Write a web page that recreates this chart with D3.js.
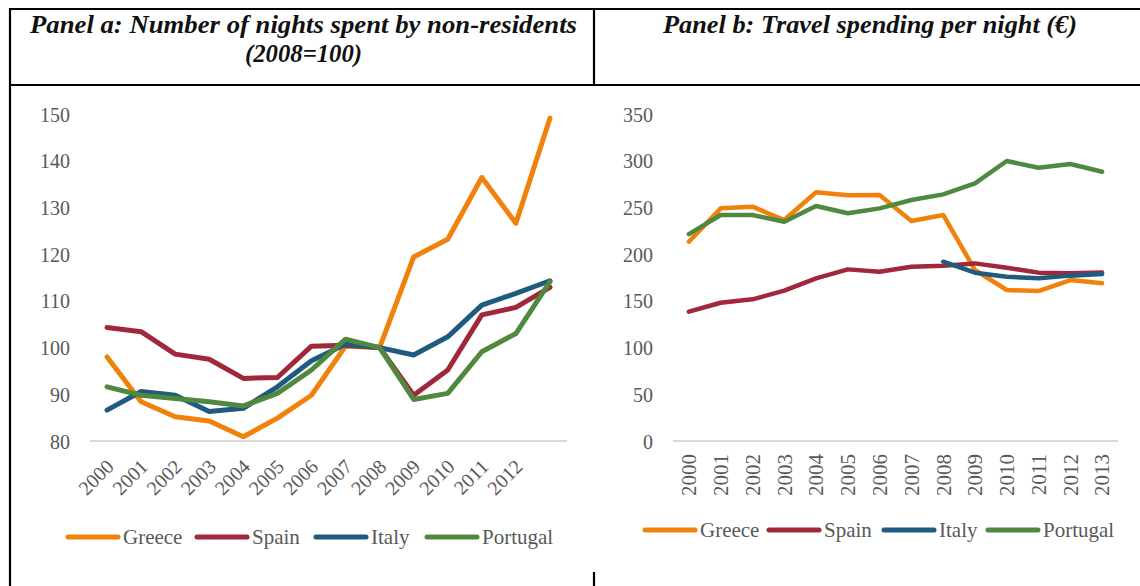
<!DOCTYPE html>
<html>
<head>
<meta charset="utf-8">
<script src="https://cdn.jsdelivr.net/npm/d3@7"></script>
<style>
html,body{margin:0;padding:0;background:#fff;}
svg{display:block;}
</style>
</head>
<body>
<svg id="chart" width="1140" height="586"></svg>
<script>
// ---- data ----
const years = ["2000","2001","2002","2003","2004","2005","2006","2007","2008","2009","2010","2011","2012","2013"];
const seriesNames = ["Greece","Spain","Italy","Portugal"];
const seriesColors = ["#F0820C","#A0283A","#1F5A80","#4F893F"];

// Panel a: nights spent by non-residents (2008=100)
const nightsGreece   = [98.0, 88.4, 85.2, 84.3, 80.9, 84.9, 89.8, 100.3, 100.0, 119.4, 123.2, 136.4, 126.6, 149.1];
const nightsSpain    = [104.3, 103.4, 98.6, 97.5, 93.4, 93.6, 100.3, 100.5, 100.0, 89.8, 95.2, 107.0, 108.6, 112.9];
const nightsItaly    = [86.6, 90.6, 89.8, 86.3, 87.0, 91.6, 97.2, 100.7, 100.0, 98.4, 102.3, 109.1, 111.6, 114.3];
const nightsPortugal = [91.6, 89.8, 89.1, 88.4, 87.5, 90.2, 95.2, 101.8, 100.0, 88.9, 90.2, 99.1, 103.0, 114.1];
const ticksA = [80, 90, 100, 110, 120, 130, 140, 150];
const xLabelsA = ["2000","2001","2002","2003","2004","2005","2006","2007","2008","2009","2010","2011","2012"];

// Panel b: travel spending per night (EUR)
const spendGreece   = [213.3, 249.0, 250.8, 236.5, 266.2, 263.0, 263.3, 235.5, 241.9, 183.0, 161.6, 160.5, 172.3, 168.8];
const spendSpain    = [138.4, 148.0, 151.6, 160.9, 174.1, 183.7, 181.2, 186.6, 187.7, 190.1, 185.5, 180.2, 179.5, 180.3];
const spendItaly    = [null, null, null, null, null, null, null, null, 191.9, 180.1, 175.9, 174.1, 177.0, 178.7];
const spendPortugal = [221.5, 241.9, 241.9, 234.7, 251.5, 243.7, 249.0, 257.9, 264.0, 275.8, 299.7, 292.5, 296.5, 288.2];
const ticksB = [0, 50, 100, 150, 200, 250, 300, 350];
const xLabelsB = years;

const FONT = "'Palatino Linotype','Book Antiqua',Palatino,'Liberation Serif','DejaVu Serif',serif";
const svg = d3.select("#chart");

// ---- table frame ----
const frame = svg.append("g").attr("stroke","#000").attr("stroke-width",2.2);
frame.append("line").attr("x1",9).attr("x2",1140).attr("y1",9).attr("y2",9);
frame.append("line").attr("x1",9).attr("x2",1140).attr("y1",85).attr("y2",85);
frame.append("line").attr("x1",10).attr("x2",10).attr("y1",8).attr("y2",586);
frame.append("line").attr("x1",594).attr("x2",594).attr("y1",8).attr("y2",86);
frame.append("line").attr("x1",594).attr("x2",594).attr("y1",572).attr("y2",586);

// ---- titles ----
const title = svg.append("g").attr("font-family",FONT).attr("font-style","italic")
  .attr("font-weight","bold").attr("font-size",25).attr("fill","#111").attr("text-anchor","middle");
title.append("text").attr("x",303.5).attr("y",33).attr("textLength",547).attr("lengthAdjust","spacingAndGlyphs")
  .text("Panel a: Number of nights spent by non-residents");
title.append("text").attr("x",303.5).attr("y",62).attr("textLength",117).attr("lengthAdjust","spacingAndGlyphs")
  .text("(2008=100)");
title.append("text").attr("x",870).attr("y",33).attr("textLength",414).attr("lengthAdjust","spacingAndGlyphs")
  .text("Panel b: Travel spending per night (€)");

function drawPanel(opt){
  const g = svg.append("g");
  const x = d3.scaleBand().domain(years).range([opt.x0, opt.x1]);
  const y = d3.scaleLinear().domain(opt.yDomain).range([441, 114]);

  // baseline
  g.append("line").attr("x1",opt.x0).attr("x2",opt.x1)
    .attr("y1",y(opt.yDomain[0])).attr("y2",y(opt.yDomain[0]))
    .attr("stroke","#d9d9d9").attr("stroke-width",2);

  // y axis
  const ya = g.append("g").attr("transform",`translate(${opt.yLabelX},0)`)
    .call(d3.axisLeft(y).tickValues(opt.yTicks).tickSize(0).tickPadding(0));
  ya.select(".domain").remove();
  ya.selectAll("text").attr("font-family",FONT).attr("font-size",20).attr("fill","#595959")
    .attr("dy","0.35em");

  // x axis
  const xa = g.append("g").attr("transform",`translate(0,${y(opt.yDomain[0])})`)
    .call(d3.axisBottom(x).tickValues(opt.xLabels).tickSize(0).tickPadding(0));
  xa.select(".domain").remove();
  xa.selectAll("text").attr("font-family",FONT).attr("font-size",opt.xFont).attr("fill","#595959")
    .attr("text-anchor","end").attr("y",0).attr("x",0).attr("dy",0);
  if (opt.rot === -45) {
    xa.selectAll("text").attr("transform","translate(3,22) rotate(-45)").attr("dy","0.35em");
  } else {
    xa.selectAll("text").attr("transform","translate(0,13) rotate(-90)").attr("dy","0.35em");
  }

  // lines
  const line = d3.line().defined(d => d.v !== null)
    .x(d => x(d.year) + x.bandwidth()/2).y(d => y(d.v));
  opt.series.forEach((vals, i) => {
    const data = years.map((yr, j) => ({year: yr, v: vals[j]}));
    g.append("path").datum(data).attr("d", line)
      .attr("fill","none").attr("stroke",seriesColors[i]).attr("stroke-width",opt.lw)
      .attr("stroke-linecap","round").attr("stroke-linejoin","round");
  });

  // legend
  const lg = g.append("g").attr("transform",`translate(0,${opt.legY})`);
  seriesNames.forEach((name, i) => {
    const lx = opt.legX[i];
    lg.append("line").attr("x1",lx).attr("x2",lx+50).attr("y1",0).attr("y2",0)
      .attr("stroke",seriesColors[i]).attr("stroke-width",5).attr("stroke-linecap","round");
    lg.append("text").attr("x",lx+55).attr("y",0).attr("dy","0.35em")
      .attr("font-family",FONT).attr("font-size",21).attr("fill","#595959").text(name);
  });
}

drawPanel({
  x0: 90, x1: 567, yDomain: [80,150], yTicks: ticksA, yLabelX: 70,
  xLabels: xLabelsA, rot: -45, lw: 5, xFont: 20,
  series: [nightsGreece, nightsSpain, nightsItaly, nightsPortugal],
  legY: 537, legX: [68, 197, 316, 427]
});
drawPanel({
  x0: 673, x1: 1118, yDomain: [0,350], yTicks: ticksB, yLabelX: 653,
  xLabels: xLabelsB, rot: -90, lw: 4.5, xFont: 21,
  series: [spendGreece, spendSpain, spendItaly, spendPortugal],
  legY: 530, legX: [645, 769, 884, 988]
});
</script>
</body>
</html>
